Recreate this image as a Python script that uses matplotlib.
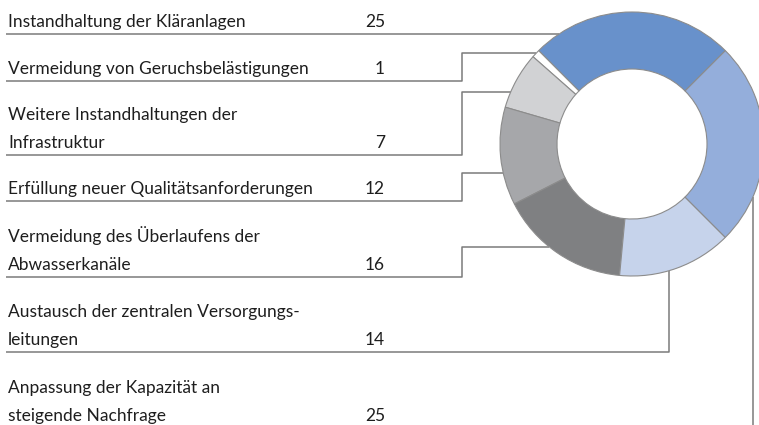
import numpy as np
import matplotlib
matplotlib.use("Agg")
import matplotlib.pyplot as plt

plt.rcParams['font.family'] = ['Lato', 'DejaVu Sans']

# Daten
labels = [
    ["Instandhaltung der Kläranlagen"],
    ["Vermeidung von Geruchsbelästigungen"],
    ["Weitere Instandhaltungen der", "Infrastruktur"],
    ["Erfüllung neuer Qualitätsanforderungen"],
    ["Vermeidung des Überlaufens der", "Abwasserkanäle"],
    ["Austausch der zentralen Versorgungs-", "leitungen"],
    ["Anpassung der Kapazität an", "steigende Nachfrage"],
]
values = [25, 1, 7, 12, 16, 14, 25]
colors = ['#6891cb', '#ffffff', '#d1d2d4', '#a6a7aa', '#7f8082', '#c6d3eb', '#94aedb']

# Layout (Pixel, von oben gemessen)
W, H = 759, 425
cx, cy, R, r_in = 632, 144, 132, 75
underline_y = [34, 81, 155, 201, 277, 352, 428]
# Anschluss an den Ring: ('h', y) waagerecht, ('v', x) senkrecht
attach = [('h', 34), ('h', 53), ('h', 92), ('h', 173), ('h', 247), ('v', 669), ('v', 753)]
elbow_x = 462

fig = plt.figure(figsize=(W / 100, H / 100), dpi=100)
ax = fig.add_axes([0, 0, 1, 1])

def Y(y):
    return H - y

# Ring
wedges, _ = ax.pie(values, colors=colors, startangle=45, counterclock=True,
                   radius=R, center=(cx, Y(cy)),
                   wedgeprops=dict(width=R - r_in, edgecolor='#8c8c8c', linewidth=0.8))
for w in wedges:
    w.set_zorder(3)

line_kw = dict(color='#7a7a7a', lw=1.1, zorder=2, solid_capstyle='butt')

for i, (lab, val) in enumerate(zip(labels, values)):
    uy = underline_y[i]
    base = uy - 7
    for k, txt in enumerate(reversed(lab)):
        ax.text(8, Y(base - 28 * k), txt, fontsize=12.5, color='#1e1e1e',
                ha='left', va='baseline')
    ax.text(385, Y(base), str(val), fontsize=12.5, color='#1e1e1e',
            ha='right', va='baseline')

    kind, p = attach[i]
    if kind == 'h':
        xe = cx - np.sqrt(R ** 2 - (p - cy) ** 2)
        if p == uy:
            ax.plot([6, xe], [Y(uy), Y(uy)], **line_kw)
        else:
            ax.plot([6, elbow_x, elbow_x, xe], [Y(uy), Y(uy), Y(p), Y(p)], **line_kw)
    else:
        ye = cy + np.sqrt(R ** 2 - (p - cx) ** 2)
        ax.plot([6, p, p], [Y(uy), Y(uy), Y(ye)], **line_kw)

ax.set_xlim(0, W)
ax.set_ylim(0, H)
ax.set_aspect('equal')
ax.axis('off')

fig.savefig('out.png', dpi=100)
